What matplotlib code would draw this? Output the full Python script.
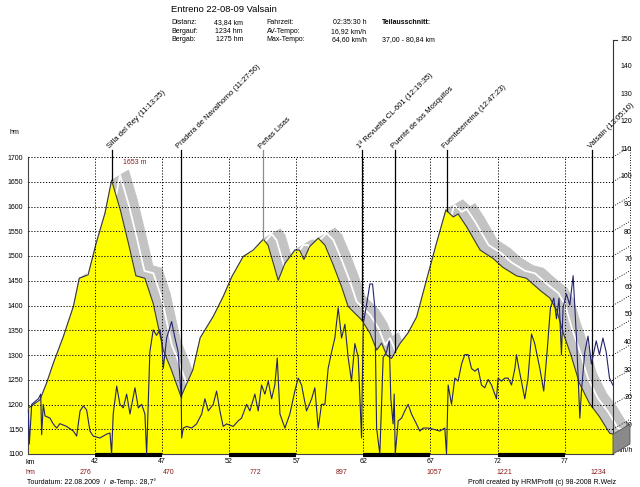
import numpy as np
import matplotlib
matplotlib.use("Agg")
import matplotlib.pyplot as plt
import matplotlib.transforms as mtransforms
from matplotlib.collections import PolyCollection
from matplotlib.patches import Polygon
from matplotlib.lines import Line2D
from matplotlib import font_manager

# ---------------- data ----------------
profile_km = [37.0, 37.05, 37.9, 38.4, 38.9, 39.65, 40.4, 40.84, 41.5, 42.1, 42.75, 43.25,
              43.9, 44.5, 45.06, 45.73, 46.35, 47.1, 47.7, 48.42, 49.3, 49.85, 50.8, 51.56,
              52.2, 53.05, 53.8, 54.55, 54.9, 55.3, 55.66, 56.16, 56.9, 57.25, 57.57, 58.0,
              58.64, 59.14, 59.76, 60.38, 60.87, 61.87, 62.5, 63.0, 63.36, 63.73, 64.1, 64.7,
              65.34, 65.97, 66.7, 67.45, 68.15, 68.7, 69.06, 69.7, 70.7, 71.67, 72.4, 73.41,
              74.15, 75.15, 75.9, 76.4, 76.9, 77.5, 78.1, 78.85, 79.6, 80.35, 80.6]
profile_hm = [1185, 1193, 1209, 1243, 1283, 1337, 1398, 1455, 1462, 1526, 1586, 1653,
              1593, 1526, 1460, 1455, 1404, 1310, 1270, 1216, 1270, 1335, 1377, 1418,
              1458, 1499, 1512, 1534, 1522, 1485, 1451, 1485, 1512, 1512, 1493, 1519,
              1536, 1522, 1482, 1438, 1398, 1371, 1344, 1310, 1324, 1300, 1293, 1322,
              1345, 1377, 1451, 1526, 1593, 1579, 1585, 1559, 1512, 1495, 1477, 1460,
              1455, 1431, 1415, 1391, 1344, 1297, 1243, 1202, 1175, 1142, 1140]

speed_km = [37.04, 37.12, 37.3, 37.54, 37.79, 37.97, 38.04, 38.16, 38.29, 38.66, 38.9, 39.16,
            39.4, 39.9, 40.4, 40.65, 40.9, 41.14, 41.39, 41.64, 41.88, 42.38, 42.88, 43.13,
            43.25, 43.37, 43.63, 43.87, 44.12, 44.37, 44.62, 44.99, 45.24, 45.49, 45.73, 45.86,
            46.1, 46.35, 46.6, 46.85, 46.98, 47.1, 47.35, 47.72, 47.97, 48.21, 48.44, 48.47,
            48.59, 48.84, 49.21, 49.58, 49.96, 50.2, 50.45, 50.82, 51.07, 51.32, 51.56, 51.82,
            52.31, 52.68, 52.93, 53.31, 53.55, 53.92, 54.17, 54.42, 54.67, 54.92, 55.17, 55.41,
            55.59, 55.79, 56.16, 56.53, 56.9, 57.15, 57.4, 57.77, 58.15, 58.39, 58.64, 58.89,
            59.14, 59.38, 59.64, 59.88, 60.13, 60.38, 60.63, 60.87, 61.12, 61.37, 61.62, 61.87,
            61.99, 62.24, 62.49, 62.69, 62.86, 62.99, 63.23, 63.48, 63.73, 63.93, 64.05, 64.22,
            64.3, 64.38, 64.6, 64.85, 65.09, 65.34, 65.59, 65.96, 66.21, 66.46, 66.83, 67.2,
            67.7, 68.07, 68.2, 68.32, 68.57, 68.82, 69.06, 69.32, 69.56, 69.81, 70.06, 70.31,
            70.55, 70.8, 71.05, 71.3, 71.55, 71.92, 72.04, 72.29, 72.54, 72.79, 73.04, 73.29,
            73.41, 73.53, 73.78, 74.03, 74.27, 74.53, 74.77, 75.15, 75.44, 75.69, 75.94, 76.19,
            76.39, 76.58, 76.76, 76.88, 77.13, 77.38, 77.63, 77.88, 78.13, 78.25, 78.5, 78.74,
            78.99, 79.35, 79.59, 79.85, 80.09, 80.34, 80.59]
speed_v = [15.6, 3.6, 18, 19, 20, 21.7, 7, 18, 13.8, 13, 10.9, 9.4,
           11, 10, 8.3, 6.5, 15.6, 17.4, 16, 8.3, 6.5, 5.8, 7.2, 7.6,
           0, 14.5, 24.6, 18, 16.7, 21.7, 14.5, 24, 16.7, 18, 14.5, 0,
           37, 45, 43, 45, 41, 31, 42, 48, 42, 37, 20, 5.8,
           9.4, 10, 9.4, 10.9, 14.5, 20, 15.6, 18, 22.8, 15.6, 10, 10.9,
           10, 12, 13, 18, 15.6, 21.7, 15.6, 25, 21.7, 26.4, 20, 25,
           34.8, 14.5, 9.4, 14.5, 22.8, 27.5, 25, 15.6, 20, 24, 9.4, 18,
           18, 31, 37, 42, 53, 42, 47, 35, 26.4, 40, 35, 5.8,
           47, 54, 61.6, 61.6, 53, 9.4, 0, 35, 37, 41, 20, 10.9,
           21.7, 0, 12, 13, 15.6, 18, 14.5, 10.9, 8.3, 9.4, 9.4, 9,
           8.3, 9.4, 0, 25, 18, 27.5, 26.4, 32.6, 36, 36, 31, 30,
           31, 25, 24, 27, 25, 20, 27.5, 26.4, 27.5, 27.5, 25, 31,
           36, 32.6, 26.4, 20, 27.5, 43.5, 40, 31, 22.8, 37, 53, 56.5,
           49, 56.5, 36, 53, 58, 54, 64.6, 42, 13, 22.8, 37, 42.7,
           32.6, 41, 36, 42, 37, 27.5, 25]

km_ticks = [42, 47, 52, 57, 62, 67, 72, 77]
hm_ticks = list(range(1100, 1701, 50))
speed_ticks = list(range(10, 151, 10))

waypoint_km = [43.25, 48.42, 54.55, 61.9, 64.38, 68.2, 79.05]
waypoint_labels = ["Silla del Rey (11:13:25)", "Pradera de Navalhorno (11:27:56)", "Peñas Lisas",
                   "1ª Revuelta CL-601 (12:19:35)", "Puente de los Mosquitos",
                   "Fuenteterreina (12:47:23)", "Valsain (13:05:10)"]

climb_label_km = [41.27, 47.53, 53.94, 60.35, 67.28, 72.49, 79.5]
climb_label_vals = ["276", "470", "772", "897", "1057", "1221", "1234"]

header_rows = [("Distanz:", "43,84 km", "Fahrzeit:", "02:35:30 h", "Teilausschnitt:"),
               ("Bergauf:", "1234 hm", "AV-Tempo:", "16,92 km/h", ""),
               ("Bergab:", "1275 hm", "Max-Tempo:", "64,60 km/h", "37,00 - 80,84 km")]

# ---------------- fonts ----------------
names = {f.name for f in font_manager.fontManager.ttflist}
if "Liberation Sans Narrow" in names:
    fam, f = "Liberation Sans Narrow", 1.0
else:
    fam, f = "Liberation Sans", 0.84
plt.rcParams["font.family"] = [fam, "DejaVu Sans"]
FS = 6.0 * f
DARKRED = "#8b1a1a"

W, H = 640, 487
fig = plt.figure(figsize=(W / 100, H / 100), dpi=100)


def F(x, y):
    return (x / W, 1 - y / H)


X0, X1 = 27.7, 613.0
YB, YT = 454.0, 157.0
ax = fig.add_axes([X0 / W, 1 - YB / H, (X1 - X0) / W, (YB - YT) / H])
ax.set_xlim(37.0, 80.6)
ax.set_ylim(1100, 1700)
pxkm = (X1 - X0) / (80.6 - 37.0)
pxhm = (YB - YT) / 600.0
ox, oy = 17.0, 10.0
dx, dy = ox / pxkm, oy / pxhm

km = np.array(profile_km)
hm = np.array(profile_hm)

# 3D ribbon on top of the profile
polys = [[(km[i], hm[i]), (km[i + 1], hm[i + 1]), (km[i + 1] + dx, hm[i + 1] + dy), (km[i] + dx, hm[i] + dy)]
         for i in range(len(km) - 1)]
pc = PolyCollection(polys, facecolors="#c3c3c3", edgecolors="#c3c3c3", linewidths=0.6, zorder=1)
pc.set_clip_on(False)
ax.add_collection(pc)
ax.plot(km + dx * 0.5, hm + dy * 0.5, color="white", lw=1.3, zorder=1.2, clip_on=False)

ax.fill_between(km, 1100, hm, color="#ffff00", lw=0, zorder=1.8)
ax.plot(km, hm, color="#3a3a3a", lw=0.8, zorder=2.2)

# grid / axes
ax.set_xticks(km_ticks)
ax.set_yticks(hm_ticks)
ax.set_axisbelow(False)
ax.grid(True, color="black", linestyle=(0, (1.2, 1.8)), lw=0.7)
ax.tick_params(length=0, labelsize=FS)
ax.tick_params(axis="y", pad=3.4)
ax.tick_params(axis="x", pad=3.2)
for s in ["top", "right"]:
    ax.spines[s].set_visible(False)
ax.spines["left"].set_color("#444444")
ax.spines["left"].set_linewidth(0.8)
ax.spines["bottom"].set_color("#444444")
ax.spines["bottom"].set_linewidth(0.8)
ax.patch.set_alpha(0)

# alternating km bar
for a in km_ticks[::2]:
    ax.plot([a, a + 5], [1100 - 1.5 / pxhm, 1100 - 1.5 / pxhm], color="black", lw=3,
            solid_capstyle="butt", clip_on=False, zorder=5)

# waypoint lines and labels
ytop = 1700 + 7 / pxhm
for wk, lab in zip(waypoint_km, waypoint_labels):
    yb = np.interp(wk, km, hm)
    col = "#8c8c8c" if lab == "Peñas Lisas" else "black"
    ax.plot([wk, wk], [yb, ytop], color=col, lw=0.9, clip_on=False, zorder=4)
    ax.text(wk - 0.05, ytop, lab, rotation=45, rotation_mode="anchor", ha="left", va="bottom",
            fontsize=6.5 * f, color="black")

pk = int(np.argmax(hm))
ax.text(km[pk] + 1.75, hm[pk] + 35, "%d m" % hm[pk], fontsize=FS, color=DARKRED,
        ha="center", va="center")

# speed
ax2 = ax.twinx()
ax2.set_ylim(0, (YB - YT) / 2.76)
ax2.set_yticks([])
for s in ax2.spines.values():
    s.set_visible(False)
ax2.plot(speed_km, speed_v, color="#23236e", lw=0.8)

# right speed axis (3D back plane)
fig.add_artist(Line2D([X1 / W, X1 / W], [1 - 40 / H, 1 - 454 / H], color="#333333", lw=0.8))
fig.add_artist(Line2D([X1 / W, (X1 + 4) / W], [1 - 40 / H, 1 - 40 / H], color="#333333", lw=0.8))
for v in hm_ticks[1:]:
    y = YB - (v - 1100) * pxhm
    fig.add_artist(Line2D([X1 / W, (X1 + ox) / W], [1 - y / H, 1 - (y - oy) / H], color="black",
                          lw=0.6, linestyle=(0, (1.2, 1.8))))
fig.add_artist(Line2D([(X1 + ox) / W] * 2, [1 - (YT - oy) / H, 1 - (YB - 30) / H], color="black",
                      lw=0.6, linestyle=(0, (1.2, 1.8))))
for s in speed_ticks:
    fig.text(*F(632, 453 - 2.76 * s), str(s), ha="right", va="center", fontsize=FS)
fig.text(*F(617, 451), "km/h", ha="left", va="center", fontsize=FS)

yend = YB - (hm[-1] - 1100) * pxhm
box = Polygon([F(X1, yend), F(X1 + ox, yend - oy), F(X1 + ox, YB - oy), F(X1, YB)], closed=True,
              facecolor="#8a8a8a", edgecolor="#555555", lw=0.6, transform=fig.transFigure, zorder=5)
fig.add_artist(box)

# labels around
fig.text(*F(10, 132), "hm", ha="left", va="center", fontsize=FS)
fig.text(*F(26, 463), "km", ha="left", va="center", fontsize=FS)
fig.text(*F(26, 472), "hm", ha="left", va="center", fontsize=FS, color=DARKRED)
bt = mtransforms.blended_transform_factory(ax.transData, fig.transFigure)
for k, v in zip(climb_label_km, climb_label_vals):
    ax.text(k, 1 - 472 / H, v, transform=bt, ha="center", va="center", fontsize=FS, color=DARKRED,
            clip_on=False)
fig.text(*F(27, 482), "Tourdatum: 22.08.2009  /  ø-Temp.: 28,7°", ha="left", va="center", fontsize=FS)
fig.text(*F(616, 482), "Profil created by HRMProfil (c) 98-2008 R.Welz", ha="right", va="center",
         fontsize=FS)

# header
fig.text(*F(171, 9), "Entreno 22-08-09 Valsain", ha="left", va="center", fontsize=8 * f)
for i, row in enumerate(header_rows):
    y = 23 + i * 8.3
    fig.text(*F(171, y), row[0], ha="left", va="center", fontsize=FS)
    fig.text(*F(243, y), row[1], ha="right", va="center", fontsize=FS)
    fig.text(*F(266.5, y), row[2], ha="left", va="center", fontsize=FS)
    fig.text(*F(366.5, y), row[3], ha="right", va="center", fontsize=FS)
    if row[4]:
        fig.text(*F(381.5, y), row[4], ha="left", va="center", fontsize=FS,
                 fontweight="bold" if i == 0 else "normal")

fig.savefig("out.png", dpi=100)
